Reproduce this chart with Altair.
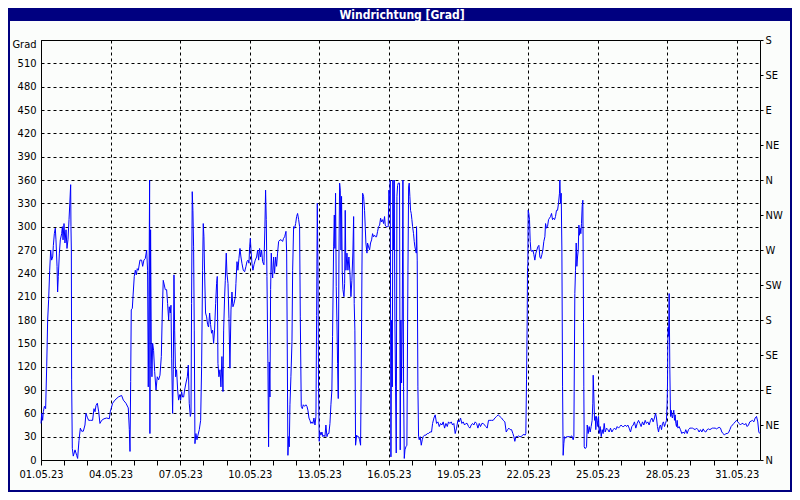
import json
import altair as alt
import pandas as pd

# ---- data: (hours since 01.05.23 00:00, wind direction in degrees) ----
part1 = [(0.0,47),(0.7,60),(1.7,51),(2.4,62),(3.5,69),(4.8,66),(5.9,120),(6.9,180),(7.9,206),(9.0,244),(10.0,270),(11.0,257),(12.1,261),(12.8,276),(13.8,291),(14.8,298),(15.5,283),(16.6,249),(17.2,216),(17.9,236),(19.0,266),(20.0,283),(21.4,291),(22.1,300),(22.8,283),(23.8,304),(24.8,279),(25.9,296),(26.9,272),(27.9,283),(29.0,309),(29.8,330),(30.7,354),(31.0,300),(31.4,270),(31.7,103),(32.4,15),
         (33.4,5),(35.2,13),(36.9,6),(37.9,2),(39.3,25),(40.7,41),(42.1,37),(43.8,37),(45.5,45),(46.5,60),(47.9,55),(49.3,51),(51.4,51),(53.4,51),(54.8,66),(55.9,62),(56.9,70),(58.3,73),(59.7,62),(61.0,47),(62.8,51),(65.2,53),(67.9,54),(70.7,53),(71.7,62),(74.1,73),
         (76.5,77),(80.0,81),(83.4,83),(85.2,77),(87.9,73),(90.3,67),(91.4,39),(92.1,11),(92.8,101),(93.4,193),(94.5,195),(95.5,216),(96.5,236),(97.6,244),(98.6,238),(99.6,246),(100.7,244),(102.4,257),(104.1,257),(105.2,249),(106.5,257),(107.9,259),(109.3,270),(110.3,244),(111.0,94),(111.7,210),(112.4,360),(112.7,34),(113.4,296),(114.1,150),(114.8,107),(115.5,150),(116.5,141),(117.6,114),(119.0,90),(120.3,107),(121.7,103),(123.1,109),(124.5,133),(125.5,189),(126.5,231),(127.6,225),(128.6,219),(130.0,219),(131.0,201),(132.1,180),(132.7,197),(133.8,189),(134.5,199),(135.2,131),(136.2,60),(136.9,116),(137.6,238),(138.3,167),(139.3,107),(140.3,116),(141.4,90),(142.4,77),(143.4,84),(144.5,77),(145.5,88),(146.5,81),(147.6,81),(148.6,90),(150.0,99),(151.4,107),(152.4,122),(153.4,73),(154.5,56),(155.2,60),(155.8,201),(156.5,345),(157.2,321),(157.9,274),(158.6,167),(159.3,21),(160.3,34),(161.4,26),(162.4,32),(163.8,39),(165.2,51),(166.2,120),(167.2,244)]
part2 = [(167.9,304),(168.6,287),(169.3,240),(170.3,189),(171.4,184),(172.4,174),(173.4,171),(174.5,189),(175.5,174),(176.5,163),(177.6,167),(178.6,150),(179.6,167),(180.7,201),(181.7,227),(182.4,236),(183.1,124),(184.1,107),(185.2,116),(186.2,94),(187.2,133),(188.3,88),
         (189.0,167),(190.0,210),(190.7,231),(191.7,266),(192.4,240),(193.5,227),(194.5,182),(195.5,118),(196.6,193),(197.6,216),(198.6,197),(199.7,201),(201.1,210),(201.7,227),(202.8,255),(203.8,244),(204.8,259),(205.9,272),(206.9,261),(207.9,253),(209.3,244),(210.7,242),(212.1,249),(213.1,255),(214.2,257),(215.2,253),(215.9,274),(216.6,285),(217.3,270),(218.3,253),(219.3,244),(220.4,251),(221.7,257),(223.1,261),(224.2,270),(225.2,257),(226.2,272),(227.3,261),(228.3,270),(229.3,255),(230.7,251),(231.7,300),(232.4,347),(233.1,309),(233.8,236),(234.8,124),(235.5,17),(236.2,126),(236.9,81),(237.6,219),(238.3,266),(239.0,244),(239.7,234),(240.7,261),(241.7,240),(242.8,261),(243.8,249),(244.8,266),(245.9,281),(247.3,283),(248.6,283),(250.0,281),(251.0,285),(252.1,287),(253.5,294),(254.2,266),(254.8,150),(255.5,6),(256.2,30),(256.9,17),(257.6,71),(258.6,107),(259.7,152),(260.4,244),(261.4,300),(262.4,298),(263.5,304),(264.5,313),(265.5,317),(266.6,309),(267.6,300),(268.3,184),(269.3,69),(270.4,66),(271.4,71),(272.8,69),(274.1,71),(275.2,69),(276.2,64),(277.3,54),(278.3,51),(279.3,47),(280.4,49),(281.4,47),(282.4,54),(283.5,45),(284.5,56),(285.2,186),(285.9,330),(286.6,249),(287.2,92),(287.9,24),(288.6,36),(289.7,32),(290.7,36),(291.7,30),(292.8,32),(293.8,30),(294.8,45),(295.9,30),(296.9,34),(297.9,34),(299.0,47),(300.0,71),(301.0,90),(301.7,159),(302.8,274),(303.5,315),(304.1,272),(304.8,343),(305.5,223),(306.2,180),(306.9,124),(307.6,79),(308.3,261),(309.0,356),(309.7,347),(310.4,270),(311.0,339),(311.7,244),(312.4,219),(313.5,210),(314.2,227),(314.8,321),(315.5,244),(316.6,266),(317.6,244),(318.6,261),(319.7,240),(320.7,210),(321.7,231),(322.8,270),(323.5,313),(324.1,201),(324.8,167),(325.5,19),(326.6,32),(327.6,30),(328.6,30),(329.7,26),(330.7,19),(331.4,116),(332.1,244),(332.8,343),(333.8,339),(334.8,321),(335.5,300),(336.2,279),(337.3,266),(337.9,279),(339.0,274),(340.0,270)]
part3 = [(341.0,279),(342.1,283),(343.1,291),(344.1,287),(345.2,289),(346.2,287),(347.2,287),(348.3,294),(349.3,300),(350.4,302),(351.4,311),(352.4,306),(353.5,309),(354.5,304),(355.5,313),(356.2,302),(357.2,300),(358.3,300),
         (359.3,300),(360.0,347),(360.7,330),(361.4,360),(362.1,4),(362.8,180),(363.5,94),(364.1,360),(364.8,270),(365.5,360),(366.2,180),(366.9,94),(367.6,9),(368.3,339),(369.0,353),(369.7,356),(370.4,356),(371.0,356),(371.7,13),(372.4,180),(373.1,99),(373.8,180),(374.5,360),(375.2,94),(375.9,2),(376.6,13),(377.6,17),(378.6,19),(379.7,244),(380.4,351),(381.0,356),(381.7,339),(382.4,321),(383.1,317),(383.8,309),(384.5,300),(385.5,291),(386.2,281),(386.9,274),(387.6,270),(388.3,266),(388.6,300),(389.3,257),(390.0,94),(390.7,30),(391.4,26),(392.4,30),(393.5,19),(394.5,26),(395.5,30),(396.9,32),(398.3,32),(399.7,34),(401.0,34),(402.4,36),(404.1,36),(405.2,47),(406.6,54),(407.9,58),(409.3,47),(410.7,49),(412.1,43),(413.5,47),(414.8,45),(416.2,49),(417.6,41),(419.0,47),(420.4,43),(421.7,49),(423.1,47),(424.5,49),(425.9,45),(427.2,47),(428.6,34),(430.0,41),(431.4,51),(432.8,49),(434.1,54),(435.5,47),(436.9,49),(438.3,45),(439.7,47),(441.0,47),(442.4,43),(443.8,41),(445.2,45),(446.6,47),(447.9,45),(449.3,49),(450.7,47),(452.1,41),(453.5,47),(454.8,43),(456.2,47),(457.6,47),(459.0,45),(460.3,43),(461.7,41),(463.1,51),(464.5,51),(466.2,51),(467.9,51),(469.7,54),(471.4,56),(473.1,58),(474.8,56),(476.6,54),(478.3,51),(480.0,49),(481.4,36),(482.8,39),(484.1,41),(485.5,39),(486.9,39),(488.3,34),(489.3,30),(490.3,24),(491.4,30),(492.8,30),(494.1,31),(495.5,30),(496.9,30),(498.3,32),(499.7,33),(501.0,32),(501.7,34),(502.4,103),(503.1,180),(503.4,244),(503.8,253),(504.1,321),(504.8,317),(505.5,309),(506.2,281),(506.9,270),(507.9,268),(509.0,270)]
part4 = [(510.0,264),(511.0,257),(512.1,266),(513.1,270),(514.1,274),(515.2,276),(516.2,261),(517.2,259),(518.3,264),(519.3,270),(520.3,281),(521.4,287),(522.1,304),(523.1,298),(524.1,300),(525.2,309),(526.2,311),(527.2,313),(528.3,317),(529.3,309),(530.3,311),(531.4,309),(532.4,313),(533.4,321),(534.5,321),(535.5,330),(536.5,343),
         (536.9,360),(537.6,330),(538.3,343),(539.0,270),(539.7,94),(540.3,6),(541.0,21),(541.7,30),(542.8,28),(543.8,30),(545.2,30),(546.6,30),(547.9,30),(549.3,31),(550.7,26),(551.4,30),(551.7,88),(552.4,214),(553.1,244),(553.8,279),(554.5,249),(555.2,261),(555.9,270),(556.6,302),(557.2,289),(557.9,298),(558.6,291),(559.3,304),(560.0,326),(560.7,334),(561.4,177),(561.7,94),(562.1,17),(562.8,15),(563.5,15),(564.5,17),(565.2,45),(566.2,34),(567.2,43),(568.3,36),(569.3,43),(570.3,51),(571.0,73),(571.4,109),(572.1,81),(572.8,51),(573.5,56),(574.1,39),(574.8,56),(575.5,51),(576.2,43),(576.9,56),(577.6,34),(578.6,43),(579.7,30),(580.7,39),(581.7,34),(582.8,47),(583.8,36),(585.2,41),(586.6,39),(587.9,36),(589.3,41),(590.7,36),(592.1,39),(593.4,41),(594.8,39),(596.2,43),(597.6,41),(599.0,43),(600.3,45),(601.7,43),(603.1,43),(604.5,45),(605.9,43),(607.2,45),(608.6,41),(610.0,36),(611.4,43),(612.8,45),(614.1,49),(615.5,41),(616.9,47),(618.3,51),(619.7,47),(621.0,43),(622.4,49),(623.8,45),(625.2,51),(626.5,47),(627.9,49),(629.3,45),(630.7,51),(632.1,54),(633.4,49),(634.8,54),(635.9,60),(636.9,54),(637.9,43),(639.0,36),(640.0,43),(641.0,45),(642.1,39),(643.1,47),(644.1,49),(645.2,43),(646.2,47),(647.2,51),(647.9,73),(648.3,99),(648.6,150),(649.0,171),(649.3,159),(649.7,180),(650.0,214),(650.7,116),(651.4,56),(652.1,64),(652.8,56),(653.4,54),(654.1,60),(654.8,64),(655.5,51),(656.2,58),(656.9,47),(657.6,43),(658.3,51),(659.0,41),(660.3,43),(661.7,39),(663.1,34),(664.5,36),(665.9,34),(667.2,39),(668.6,34),(670.0,39),(671.4,41),(672.8,41),(674.1,41),(675.5,40),(676.9,39),(678.3,41),(679.7,39),(681.0,36),(682.4,39),(683.8,36),(685.2,40),(686.5,37),(687.9,36),(689.3,39),(690.7,40),(692.1,39),(693.4,40),(694.8,41),(696.2,41),(697.6,41),(699.0,40),(700.3,41),(701.7,42),(703.1,41),(704.5,36),(705.9,34),(707.2,32),(708.6,34),(710.0,34),(711.4,35),(712.8,39),(714.1,43),(715.5,45),(716.9,47),(718.3,49),(719.7,51),(721.0,49),(722.4,47),(723.8,45),(725.2,47),(726.5,47),(727.9,45),(729.3,47),(730.7,43),(732.1,45),(733.4,49),(734.8,50),(736.2,51),(737.6,49),(739.0,54),(740.4,56),(741.7,49),(742.8,36),(743.8,34)]

left_ticks = list(range(0, 541, 30))
right_ticks = list(range(0, 541, 45))
right_labels = ["N", "NE", "E", "SE", "S", "SW", "W", "NW", "N", "NE", "E", "SE", "S"]
y_unit = "Grad"
title_text = "Windrichtung [Grad]"
days = list(range(1, 32))

# ---- build table ----
rows = sorted(part1 + part2 + part3 + part4)
start = pd.Timestamp("2023-05-01")
df = pd.DataFrame({
    "time": [start + pd.Timedelta(hours=h) for h, _ in rows],
    "deg": [d for _, d in rows],
})

FONT = "Liberation Sans Narrow, DejaVu Sans Condensed, Liberation Sans, sans-serif"
BG = "#fbfdfb"
NAVY = "#000080"
W, H = 719, 420
PL, PT, PR, PB = 33, 32, 32, 32

major = "date(datum.value) % 3 == 1"
x_enc = alt.X(
    "time:T",
    scale=alt.Scale(domain=[alt.DateTime(year=2023, month=5, date=1),
                            alt.DateTime(year=2023, month=6, date=1)]),
    axis=alt.Axis(
        values=[alt.DateTime(year=2023, month=5, date=d) for d in days],
        labelExpr=f"{major} ? timeFormat(datum.value, '%d.%m.%y') : ''",
        grid=True, gridColor="black", gridDash=[3, 3], gridWidth=1,
        gridOpacity={"condition": {"test": major, "value": 1}, "value": 0},
        tickSize=5, tickColor="black", labelPadding=3, domain=False, title=None,
        labelFlush=False, labelOverlap=False,
    ),
)

y_left = alt.Y(
    "deg:Q",
    scale=alt.Scale(domain=[0, 540], nice=False, zero=False),
    axis=alt.Axis(
        values=left_ticks,
        labelExpr=f"datum.value == 540 ? '{y_unit}' : datum.label",
        labelOffset={"condition": {"test": "datum.value == 540", "value": 4}, "value": 0},
        grid=True, gridColor="black", gridDash=[3, 3], gridWidth=1,
        ticks=False, labelPadding=5, domain=False, title=None,
    ),
)

y_right = alt.Y(
    "deg:Q",
    scale=alt.Scale(domain=[0, 540], nice=False, zero=False),
    axis=alt.Axis(
        orient="right",
        values=right_ticks,
        labelExpr=f"{json.dumps(right_labels)}[round(datum.value / 45)]",
        grid=False, tickSize=3, tickColor="black", labelPadding=2,
        domain=False, title=None,
    ),
)

base = alt.Chart(df)
left_layer = base.mark_line(opacity=0).encode(x=x_enc, y=y_left)
line_layer = base.mark_line(color="#0000ff", strokeWidth=1).encode(x=x_enc, y=y_right)

one = pd.DataFrame({"k": [0]})
title_bar = alt.Chart(one).mark_rect(color=NAVY).encode(
    x=alt.value(-PL), x2=alt.value(W + PR), y=alt.value(-PT), y2=alt.value(-19)
)
title = alt.Chart(one).mark_text(
    text=title_text, color="white", fontWeight="bold", font=FONT, fontSize=12,
    align="center", baseline="middle",
).encode(x=alt.value(361), y=alt.value(-25))
border = alt.Chart(one).mark_rect(filled=False, color=NAVY, strokeWidth=2).encode(
    x=alt.value(-PL + 1), x2=alt.value(W + PR - 1), y=alt.value(-PT), y2=alt.value(H + PB - 1)
)

chart = (
    alt.layer(left_layer, line_layer, title_bar, title, border)
    .resolve_scale(y="independent")
    .properties(
        width=W, height=H,
        autosize=alt.AutoSizeParams(type="none"),
        padding={"left": PL, "top": PT, "right": PR, "bottom": PB},
        background=BG,
    )
    .configure_view(stroke="black", strokeWidth=1, fill=BG)
    .configure_axis(labelFont=FONT, labelFontSize=11, labelColor="black")
)

chart.save("out.html", embed_options={"renderer": "svg", "actions": False})
